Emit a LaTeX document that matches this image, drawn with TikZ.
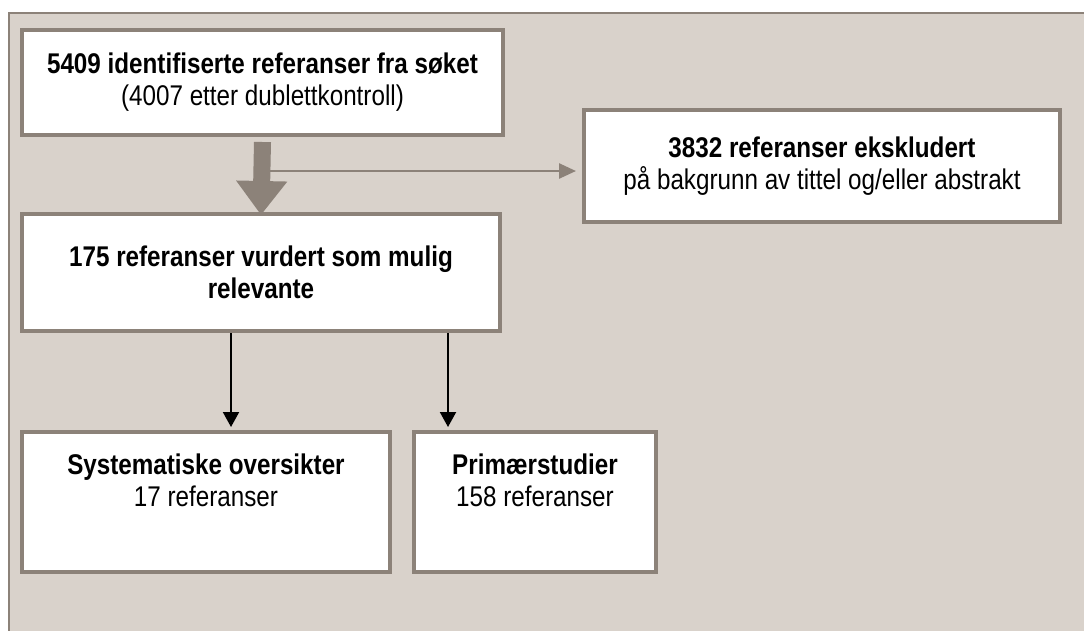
\documentclass[tikz,border=0pt]{standalone}
\usepackage{fontspec}
\setmainfont{Liberation Sans}[FakeStretch=0.85]
\usetikzlibrary{arrows.meta,positioning}

\definecolor{panelbg}{RGB}{217,210,203}
\definecolor{framegrey}{RGB}{140,130,121}

\tikzset{
	box/.style={draw=framegrey, line width=4pt, fill=white, align=center, inner sep=0pt},
	txt/.style={align=center, inner sep=0pt},
	bigarrow/.style={draw=framegrey, line width=17pt, -{Triangle[width=49pt,length=34pt]}},
	thinarrow/.style={draw=framegrey, line width=2.5pt, -{Triangle[width=15pt,length=17pt]}},
	flowarrow/.style={draw=black, line width=2pt, -{Triangle[width=16pt,length=15pt]}}
}

\begin{document}
\begin{tikzpicture}[x=1pt, y=-1pt, font=\fontsize{28.5}{32}\selectfont]

		\useasboundingbox (0, 0) rectangle (1084, 630);
		\draw[draw=framegrey, fill=panelbg, line width=2pt](9, 13) rectangle (1095, 645);

		\node[box, minimum width=481, minimum height=105] (sok) at(262.5, 82.5)
			{\textbf{5409 identifiserte referanser fra søket}\\(4007 etter dublettkontroll)};
		\node[box, minimum width=476, minimum height=112] (ekskl) at(822, 166)
			{\textbf{3832 referanser ekskludert}\\på bakgrunn av tittel og/eller abstrakt};
		\node[box, minimum width=478, minimum height=117] (relev) at(261, 272.5)
			{\textbf{175 referanser vurdert som mulig}\\\textbf{relevante}};
		\node[box, minimum width=368, minimum height=140] (sys) at(206, 502) {};
		\node[box, minimum width=242, minimum height=140] (prim) at(535, 502) {};

		\node[txt, below=24pt of sys.north] (systxt) {\textbf{Systematiske oversikter}\\17 referanser};
		\node[txt, below=24pt of prim.north] (primtxt) {\textbf{Primærstudier}\\158 referanser};

		\coordinate (split) at(270, 171);
		\draw[thinarrow, shorten >=6pt](split) to (split -| ekskl.west);
		\draw[bigarrow]([yshift=-5pt]sok.south) to ([yshift=-3pt]relev.north);

		\coordinate (sysfrom) at([xshift=-30pt]relev.south);
		\coordinate (primfrom) at([xshift=187pt]relev.south);
		\draw[flowarrow, shorten >=3pt](sysfrom) to (sysfrom |- sys.north);
		\draw[flowarrow, shorten >=3pt](primfrom) to (primfrom |- prim.north);

	\end{tikzpicture}
\end{document}
